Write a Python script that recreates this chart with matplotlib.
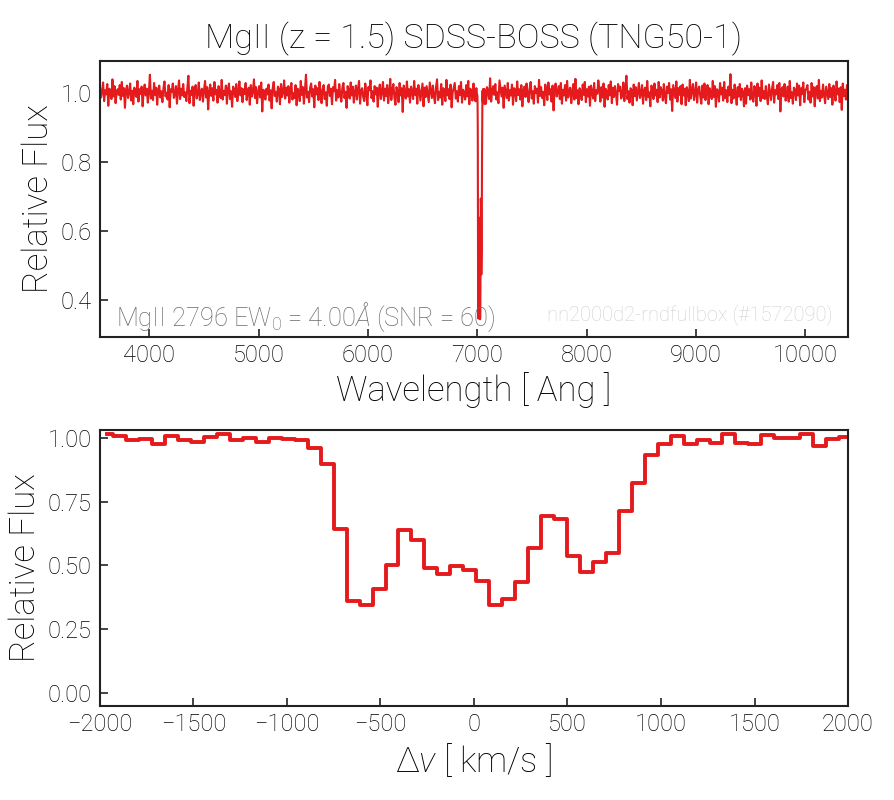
import numpy as np
import matplotlib
matplotlib.use("Agg")
import matplotlib.pyplot as plt

# ---------------- data ----------------
c_kms = 299792.458
lam_center = 7023.0

# velocity-window profile (bottom panel), steps of one BOSS pixel (~69 km/s)
v_start = -1963.0
v_step = 69.3
flux_profile = [1.013, 1.005, 0.990, 0.995, 0.977, 1.005, 0.990, 0.982, 1.002, 1.015,
                0.990, 0.997, 0.982, 0.997, 0.993, 0.992, 0.961, 0.896, 0.643, 0.360,
                0.347, 0.409, 0.502, 0.640, 0.600, 0.490, 0.468, 0.497, 0.484, 0.438,
                0.345, 0.367, 0.434, 0.568, 0.695, 0.681, 0.538, 0.475, 0.512, 0.549,
                0.714, 0.823, 0.931, 0.977, 1.008, 0.977, 0.992, 0.980, 1.013, 0.979,
                0.974, 1.010, 1.000, 1.000, 1.013, 0.969, 0.995, 1.001]

# continuum (top panel): flux deviations from 1, read by eye, in units of dev_unit
dev_unit = 0.0015
cont_dev = [
 12,-8,3,21,-15,6,-2,18,-24,9,4,-11,27,-6,14,-19,2,8,-3,16,
 -12,22,-5,10,-28,7,15,-9,1,19,-14,5,-21,11,3,-7,24,-16,8,-1,
 13,-25,6,17,-4,9,-18,2,36,-10,5,-13,20,-3,11,-22,7,15,-8,4,
 -17,10,23,-6,1,-12,16,-27,8,3,19,-9,-2,14,-20,6,25,-11,9,-4,
 18,-7,2,-15,11,34,-19,5,-3,13,-24,8,16,-10,-1,21,-13,4,9,-16,
 6,24,-8,12,-31,3,17,-5,10,-14,22,-2,7,-18,14,1,-9,26,-12,5,
 -3,15,-20,9,19,-11,4,-26,13,6,-7,18,-15,2,23,-4,10,-17,8,-1,
 20,-13,5,11,-22,16,-6,3,27,-9,12,-19,1,14,-8,21,-35,7,4,-12,
 9,-2,17,-14,6,-29,10,22,-5,3,-16,13,8,-21,18,-7,2,25,-10,11,
 -4,14,-18,7,20,-12,1,-9,16,-23,9,5,-15,24,-3,12,-20,6,36,-8,
 3,-17,11,19,-6,8,-27,15,-2,10,-13,22,4,-19,7,16,-11,2,-24,13,
 17,-5,9,-21,12,4,26,-14,6,-8,18,-3,-16,11,20,-9,3,-28,14,7,
 -10,21,-4,13,-18,2,15,-12,8,24,-20,5,10,-7,-15,19,1,-23,12,6,
 25,-9,4,-16,14,-2,11,-26,7,17,-11,3,22,-14,9,-5,16,-19,2,28,
 -13,6,18,-8,-22,12,5,-17,20,-4,10,-36,15,1,-10,23,-6,8,-18,13,
 4,-11,24,-3,9,-20,16,7,-14,2,19,-25,11,-7,14,-1,-17,21,6,-9,
 15,-6,-19,12,27,-13,3,-8,18,-22,10,5,-15,26,-4,8,-11,17,-27,2,
 11,20,-10,4,-16,14,-3,22,-18,7,1,-12,16,-6,24,-21,9,3,-14,19,
 -7,13,-24,10,6,-2,17,-15,8,21,-9,-20,12,4,-11,29,-16,5,14,-3,
 18,-12,2,-19,25,9,-6,11,-28,15,3,-9,20,-14,6,-4,17,-22,10,7,
 -15,23,-3,8,-12,16,-25,5,13,-7,19,-1,-17,10,22,-10,4,-20,14,1,
 9,-18,26,-5,12,-9,3,-23,17,6,-13,21,-2,8,-16,15,-33,11,19,-6,
 2,14,-11,20,-20,7,-4,16,-14,24,-8,5,11,-19,3,18,-12,28,-9,6,
 -21,10,4,-13,17,-3,22,-17,8,-6,13,-24,15,2,-10,20,-15,6,-1,25,
 7,-16,12,-8,19,-26,9,3,-12,16,-4,23,-19,11,-7,14,-2,-22,18,5,
 13,-10,-3,21,-15,8,34,-11,4,-18,10,6,-23,17,-5,12,-14,3,20,-9,
 -2,16,-20,6,11,-13,24,-7,2,-25,15,9,-11,19,-4,7,-17,22,-8,12,
 5,-14,18,-6,-19,13,1,20,-12,8,-34,16,4,-9,23,-16,10,-3,14,-21,
 17,-4,9,-23,12,3,-15,26,-10,6,18,-13,-1,21,-18,7,13,-6,-20,15,
 -8,19,-13,4,16,-21,10,2,-11,24,-7,14,-26,8,5,-16,20,-2,11,-14,
 22,-9,6,-17,13,-4,37,-19,7,-10,17,1,-22,12,-6,18,-13,9,3,-25,
 10,-20,15,-3,8,-12,21,-8,-16,14,5,-24,19,-5,11,-15,25,-9,4,-11,
 14,-7,-21,17,3,-13,9,22,-18,6,-2,16,-11,20,-35,8,12,-6,18,-14,
 -5,13,-16,24,-9,2,-20,11,7,-13,19,-4,15,-23,10,-1,21,-17,6,9,
 16,-12,3,-18,20,-6,12,-25,8,14,-10,26,-15,5,-8,17,-3,-19,13,1,
 -11,18,-7,10,-22,15,4,-14,23,-2,9,-17,12,-32,19,-5,7,-12,16,-4]

lam_min, lam_max = 3550.0, 10390.0

title = "MgII (z = 1.5) SDSS-BOSS (TNG50-1)"
annot = r"MgII 2796 EW$_0$ = 4.00$\AA$ (SNR = 60)"
tag = "nn2000d2-rndfullbox (#1572090)"

# ---------------- derived arrays ----------------
vel = v_start + v_step * np.arange(len(flux_profile))
prof = np.array(flux_profile)
lam_prof = lam_center * (1 + vel / c_kms)

lam_cont = np.linspace(lam_min, lam_max, len(cont_dev))
flux_cont = 1.0 + np.array(cont_dev) * dev_unit
keep = (lam_cont < lam_prof.min()) | (lam_cont > lam_prof.max())
lam_all = np.concatenate([lam_cont[keep], lam_prof])
flux_all = np.concatenate([flux_cont[keep], prof])
order = np.argsort(lam_all)
lam_all, flux_all = lam_all[order], flux_all[order]

# ---------------- style ----------------
plt.rcParams['font.family'] = ['Roboto', 'DejaVu Sans']
plt.rcParams['font.weight'] = 'light'
plt.rcParams['axes.titleweight'] = 'light'
plt.rcParams['axes.labelweight'] = 'light'
plt.rcParams['mathtext.fontset'] = 'custom'
plt.rcParams['mathtext.rm'] = 'Roboto:light'
plt.rcParams['mathtext.it'] = 'Roboto:light:italic'
plt.rcParams['mathtext.bf'] = 'Roboto:bold'
plt.rcParams['axes.unicode_minus'] = True

red = '#e41a1c'
spine_col = '#222222'

fig = plt.figure(figsize=(8.95, 8.0), dpi=100)
ax1 = fig.add_axes([0.1117, 0.57875, 0.8358, 0.345])
ax2 = fig.add_axes([0.1117, 0.1175, 0.8358, 0.345])

for ax in (ax1, ax2):
    for s in ax.spines.values():
        s.set_linewidth(1.5)
        s.set_color(spine_col)
    ax.tick_params(direction='in', length=6, width=1.2, color=spine_col,
                   labelsize=17, labelcolor='#000000', top=False, right=False)
    ax.tick_params(axis='y', pad=6)
    ax.tick_params(axis='x', pad=5)

# top panel
ax1.plot(lam_all, flux_all, color=red, lw=1.5)
ax1.set_xlim(lam_min, lam_max)
ax1.set_ylim(0.2935, 1.0938)
ax1.set_yticks([0.4, 0.6, 0.8, 1.0])
ax1.set_xticks([4000, 5000, 6000, 7000, 8000, 9000, 10000])
ax1.set_xlabel("Wavelength [ Ang ]", fontsize=25, labelpad=4)
ax1.set_ylabel("Relative Flux", fontsize=25, labelpad=4)
ax1.set_title(title, fontsize=24.5, pad=9)
ax1.text(0.021, 0.039, annot, transform=ax1.transAxes, fontsize=18.4,
         color='#6a6a6a', ha='left', va='baseline')
ax1.text(0.979, 0.059, tag, transform=ax1.transAxes, fontsize=14.5,
         color='#d0d0d0', ha='right', va='baseline')

# bottom panel
ax2.plot(vel, prof, color=red, lw=2.8, drawstyle='steps-mid')
ax2.set_xlim(-2000, 2000)
ax2.set_ylim(-0.05, 1.03)
ax2.set_yticks([0.0, 0.25, 0.5, 0.75, 1.0])
ax2.set_yticklabels(['0.00', '0.25', '0.50', '0.75', '1.00'])
ax2.set_xticks([-2000, -1500, -1000, -500, 0, 500, 1000, 1500, 2000])
ax2.set_xlabel(r"$\Delta v$ [ km/s ]", fontsize=25, labelpad=4)
ax2.set_ylabel("Relative Flux", fontsize=25, labelpad=4)

fig.savefig("out.png", dpi=100)
